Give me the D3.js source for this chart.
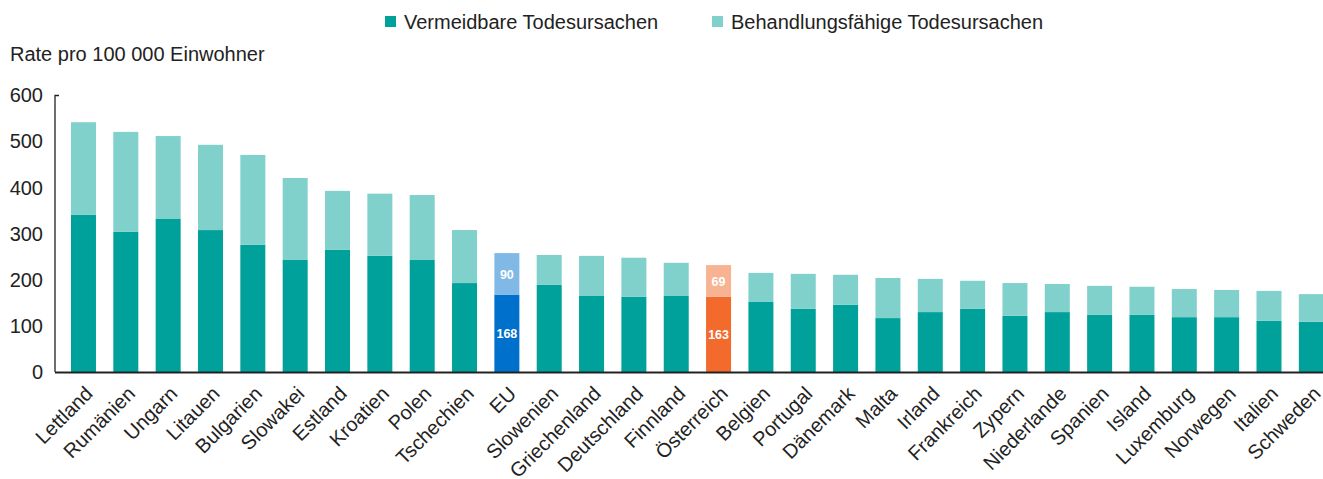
<!DOCTYPE html>
<html><head><meta charset="utf-8">
<script src="https://cdn.jsdelivr.net/npm/d3@7"></script>
<style>body{margin:0;background:#fff}svg{display:block;font-family:"Liberation Sans",Arial,sans-serif}</style>
</head><body><svg id="c" width="1323" height="479"></svg>
<script>
const categories = ["Lettland","Rumänien","Ungarn","Litauen","Bulgarien","Slowakei","Estland","Kroatien","Polen","Tschechien","EU","Slowenien","Griechenland","Deutschland","Finnland","Österreich","Belgien","Portugal","Dänemark","Malta","Irland","Frankreich","Zypern","Niederlande","Spanien","Island","Luxemburg","Norwegen","Italien","Schweden"];
const vermeidbar = [341,304,332,308,276,243,265,252,243,193,168,189,165,163,165,163,152,137,146,117,130,137,122,130,124,124,119,119,111,109];
const behandelbar = [201,217,180,185,195,178,128,135,141,115,90,65,87,85,72,69,63,76,65,87,72,61,71,61,63,61,61,59,65,60];
const yTicks = [0,100,200,300,400,500,600];
const seriesNames = ["Vermeidbare Todesursachen","Behandlungsfähige Todesursachen"];
const colors = {
  normal:["#00A19A","#80D0CB"],
  EU:["#0070CD","#80B8E6"],
  "Österreich":["#F26A2C","#F8B393"]
};
const labeled = ["EU","Österreich"];

const svg = d3.select("#c");
const x0 = 55, y0 = 372;
const x = d3.scaleBand().domain(categories).range([49.8, 1345]).paddingInner(0.4095).paddingOuter(0.5);
const y = d3.scaleLinear().domain([0,600]).range([y0, 95.5]);

// Bars
const g = svg.append("g");
categories.forEach((c,i)=>{
  const col = colors[c] || colors.normal;
  const a = vermeidbar[i], b = behandelbar[i];
  g.append("rect").attr("x",x(c)).attr("width",x.bandwidth())
    .attr("y",y(a)).attr("height",y(0)-y(a)).attr("fill",col[0]);
  g.append("rect").attr("x",x(c)).attr("width",x.bandwidth())
    .attr("y",y(a+b)).attr("height",y(a)-y(a+b)).attr("fill",col[1]);
  if(labeled.includes(c)){
    g.append("text").attr("x",x(c)+x.bandwidth()/2).attr("y",(y(0)+y(a))/2+5)
      .attr("text-anchor","middle").attr("fill","#fff").attr("font-weight","bold")
      .attr("font-size",12.5).text(a);
    g.append("text").attr("x",x(c)+x.bandwidth()/2).attr("y",(y(a)+y(a+b))/2+5)
      .attr("text-anchor","middle").attr("fill","#fff").attr("font-weight","bold")
      .attr("font-size",12.5).text(b);
  }
});

// Y axis
const yAxis = svg.append("g").attr("transform",`translate(${x0},0)`)
  .call(d3.axisLeft(y).tickValues(yTicks).tickSize(0).tickPadding(12));
yAxis.select(".domain").remove();
yAxis.selectAll("text").attr("font-size",20).attr("fill","#222").attr("font-family","Liberation Sans, Arial, sans-serif");
svg.append("path").attr("d",`M${x0+4},${y(600)}H${x0}V${y0}`).attr("stroke","#222").attr("stroke-width",1.3).attr("fill","none");

// X axis
const xAxis = svg.append("g").attr("transform",`translate(0,${y0})`)
  .call(d3.axisBottom(x).tickSize(0).tickPadding(0));
xAxis.select(".domain").remove();
svg.append("line").attr("x1",x0).attr("x2",1323).attr("y1",y0+0.5).attr("y2",y0+0.5).attr("stroke","#222").attr("stroke-width",1.8);
xAxis.selectAll("text")
  .attr("font-size",20).attr("fill","#222").attr("font-family","Liberation Sans, Arial, sans-serif")
  .attr("text-anchor","end").attr("dy",0)
  .attr("transform","translate(10.5,23) rotate(-45)");

// Axis title
svg.append("text").attr("x",10).attr("y",61).attr("font-size",20).attr("fill","#222").text("Rate pro 100 000 Einwohner");

// Legend
const leg = [{x:385,t:seriesNames[0],c:colors.normal[0]},{x:712,t:seriesNames[1],c:colors.normal[1]}];
leg.forEach(l=>{
  svg.append("rect").attr("x",l.x).attr("y",16).attr("width",11).attr("height",11).attr("fill",l.c);
  svg.append("text").attr("x",l.x+19).attr("y",29).attr("font-size",20).attr("fill","#222").text(l.t);
});
</script></body></html>
